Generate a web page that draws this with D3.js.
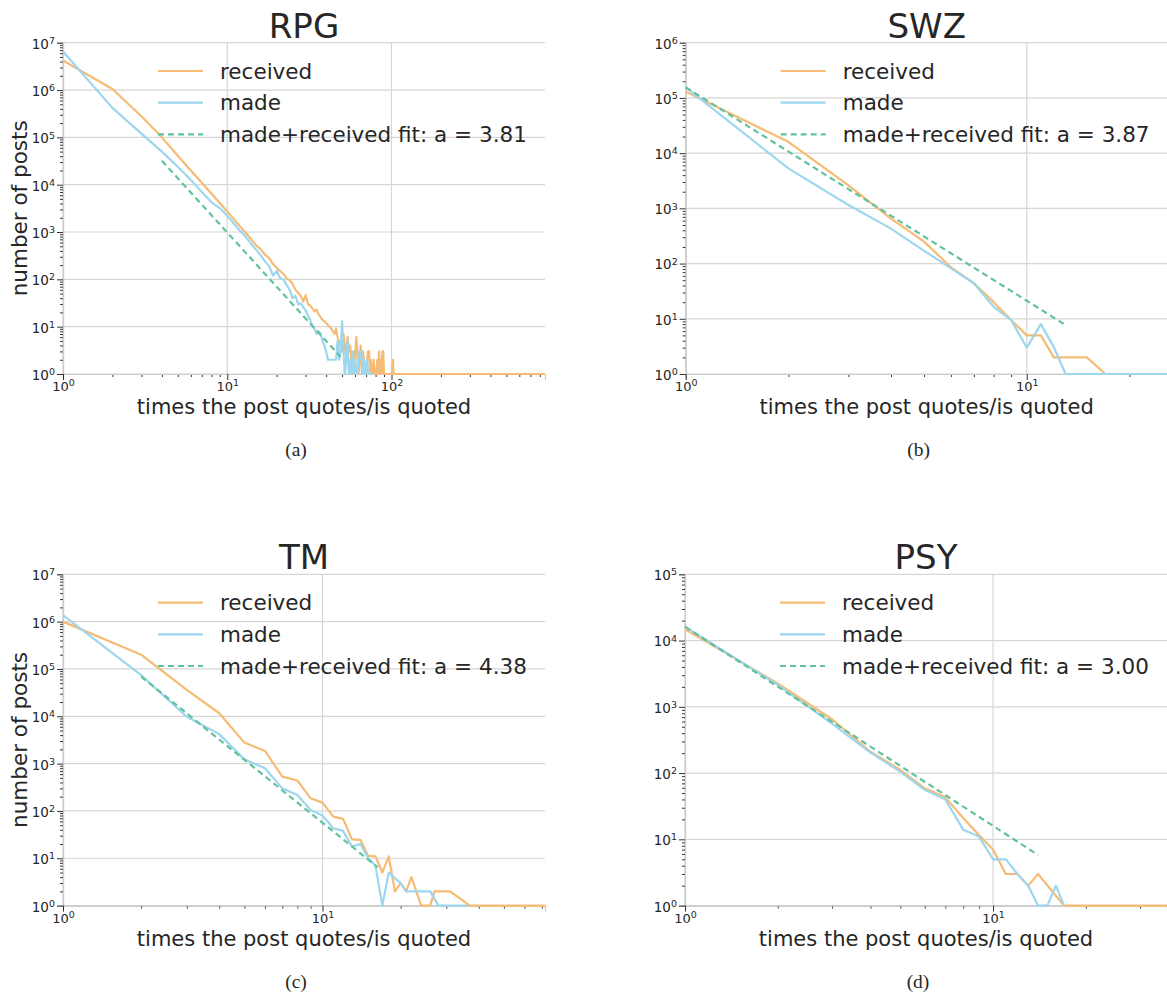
<!DOCTYPE html>
<html>
<head>
<meta charset="utf-8">
<script src="https://cdn.jsdelivr.net/npm/d3@7"></script>
<style>
  body { margin: 0; background: #fff; }
  svg text { font-family: "DejaVu Sans", sans-serif; fill: #262626; }
  .caption { font-family: "Liberation Serif", serif !important; }
  .grid line { stroke: #d6d6d6; stroke-width: 1.2; }
  .axis path.domain { stroke: #cccccc; stroke-width: 1.2; }
  .axis line { stroke: #333; }
</style>
</head>
<body>
<div id="chart"></div>
<script>
// RPG
const rpgReceivedY = [4.2e6, 1.05e6, 2.8e5, 1.0e5, 41000, 20000, 11000, 6500, 4100, 2700,
  1850, 1300, 950, 700, 520, 430, 330, 280, 210, 175,
  150, 130, 105, 95, 80, 60, 52, 45, 34, 46,
  30, 28, 24, 21, 23, 18, 16, 14, 13, 12,
  11, 10, 9, 8, 7, 9, 6, 4, 5, 3,
  7, 4, 2, 6, 3, 4, 2, 1, 3, 2,
  6, 3, 1, 2, 4, 1, 3, 2, 1, 1,
  2, 3, 3, 1, 2, 1, 1, 2, 1, 1,
  1, 2, 1, 3, 1, 2, 1, 3, 3, 1,
  1, 1, 1, 1, 1, 1, 1, 1, 1, 1,
  1, 2, 1, 1];
const rpgMadeY = [6.5e6, 4.2e5, 1.2e5, 5.0e4, 2.4e4, 12500, 7000, 4300, 3200, 2200,
  1500, 1050, 780, 560, 420, 320, 240, 190, 120, 150,
  105, 100, 75, 60, 40, 45, 30, 31, 26, 22,
  17, 14, 10, 9, 7, 8, 7, 5, 4, 3,
  2, 2, 2, 2, 2, 2, 5, 2, 3, 13,
  3, 1, 2, 5, 1, 2, 1, 3, 1, 2,
  1, 1, 3, 2, 3, 2, 1, 2, 1, 1,
  2, 1, 1, 1, 1, 1, 1];
const rpgFitX = [4, 49];
const rpgFitY = [32000, 2.3];

// SWZ
const swzReceivedX = [1, 2, 3, 4, 5, 6, 7, 8, 9, 10, 11, 12, 13, 14, 15, 16, 17, 25.9];
const swzReceivedY = [1.3e5, 1.6e4, 2600, 650, 250, 85, 44, 20, 9.5, 5, 5, 2, 2, 2, 2, 1.4, 1, 1];
const swzMadeX = [1, 2, 3, 4, 5, 6, 7, 8, 9, 10, 11, 12, 13, 25.9];
const swzMadeY = [1.55e5, 5300, 1150, 430, 170, 82, 44, 16.5, 9.5, 3, 8, 3.1, 1, 1];
const swzFitX = [1, 13];
const swzFitY = [1.56e5, 7.7];

// TM
const tmReceivedX = [1, 2, 3, 4, 5, 6, 7, 8, 9, 10, 11, 12, 13, 14, 15, 16, 17, 18, 19, 20, 21, 22, 23, 24, 26, 27, 31, 37, 72];
const tmReceivedY = [1.0e6, 2.0e5, 3.6e4, 1.16e4, 2780, 1850, 530, 440, 185, 150, 76, 68, 25, 24.5, 11.2, 11, 5, 11, 2, 3, 2, 4, 2, 1, 1, 2, 2, 1, 1];
const tmMadeX = [1, 2, 3, 4, 5, 6, 7, 8, 9, 10, 11, 12, 13, 14, 15, 16, 17, 18, 19, 20, 21, 26, 28, 36];
const tmMadeY = [1.38e6, 7.4e4, 9800, 4200, 1230, 800, 300, 218, 105, 80, 43, 38, 17.6, 20, 10, 7, 1, 5, 3.8, 3, 2, 2, 1, 1];
const tmFitX = [2, 16.3];
const tmFitY = [6.9e4, 6.5];

// PSY
const psyReceivedX = [1, 2, 3, 4, 5, 6, 7, 8, 9, 10, 11, 12, 13, 14, 17, 36.7];
const psyReceivedY = [1.48e4, 2260, 650, 210, 112, 59, 43, 21, 11.6, 7, 3, 3, 2, 3, 1, 1];
const psyMadeX = [1, 2, 3, 4, 5, 6, 7, 8, 9, 10, 11, 12, 13, 14, 15, 16, 17];
const psyMadeY = [1.62e4, 2140, 560, 204, 105, 56, 40, 14, 11, 5, 5, 3, 2, 1, 1, 2, 1];
const psyFitX = [1, 14];
const psyFitY = [1.62e4, 5.8];

const seriesNames = ["received", "made"];
const colors = {received: "#f6bb74", made: "#9dd6ef", fit: "#62c29e"};

const plotW = 482;
const plotH = 331.3;

function zip(xs, ys) { return xs.map((x, i) => [x, ys[i]]); }

const panels = [
  {title: "RPG", letter: "(a)", left: 63, top: 42.7, xMax: 860, yMax: 1e7, yLabel: true, a: "3.81",
    received: zip(d3.range(1, rpgReceivedY.length + 1), rpgReceivedY).concat([[860, 1]]),
    made: zip(d3.range(1, rpgMadeY.length + 1), rpgMadeY),
    fit: zip(rpgFitX, rpgFitY)},
  {title: "SWZ", letter: "(b)", left: 685.7, top: 42.7, xMax: 25.9, yMax: 1e6, yLabel: false, a: "3.87",
    received: zip(swzReceivedX, swzReceivedY), made: zip(swzMadeX, swzMadeY), fit: zip(swzFitX, swzFitY)},
  {title: "TM", letter: "(c)", left: 63, top: 574.3, xMax: 72, yMax: 1e7, yLabel: true, a: "4.38",
    received: zip(tmReceivedX, tmReceivedY), made: zip(tmMadeX, tmMadeY), fit: zip(tmFitX, tmFitY)},
  {title: "PSY", letter: "(d)", left: 685, top: 574.3, xMax: 36.7, yMax: 1e5, yLabel: false, a: "3.00",
    received: zip(psyReceivedX, psyReceivedY), made: zip(psyMadeX, psyMadeY), fit: zip(psyFitX, psyFitY)}
];

const svg = d3.select("#chart").append("svg")
  .attr("width", 1167)
  .attr("height", 999);

// 10 with a superscript exponent
function powLabel(sel) {
  sel.each(function(d) {
    const t = d3.select(this);
    const e = Math.round(Math.log10(d));
    t.text("10");
    t.append("tspan").attr("dy", "-0.5em").attr("font-size", "9.5px").text(e);
  });
}

function isDecade(v) { return Math.abs(Math.log10(v) - Math.round(Math.log10(v))) < 1e-9; }

function drawPanel(p) {
  const g = svg.append("g").attr("transform", `translate(${p.left}, ${p.top})`);

  const x = d3.scaleLog().domain([1, p.xMax]).range([0, plotW]);
  const y = d3.scaleLog().domain([1, p.yMax]).range([plotH, 0]);

  const xMajor = x.ticks().filter(isDecade);
  const yMajor = y.ticks().filter(isDecade);

  // grid
  const grid = g.append("g").attr("class", "grid");
  grid.selectAll(".hy").data(yMajor).enter().append("line")
    .attr("x1", 0).attr("x2", plotW)
    .attr("y1", d => y(d)).attr("y2", d => y(d));
  grid.selectAll(".vx").data(xMajor).enter().append("line")
    .attr("x1", d => x(d)).attr("x2", d => x(d))
    .attr("y1", 0).attr("y2", plotH);

  // minor ticks
  g.append("g").attr("class", "axis")
    .call(d3.axisLeft(y).tickValues(y.ticks().filter(v => !isDecade(v))).tickSize(3).tickFormat(""));
  g.append("g").attr("class", "axis").attr("transform", `translate(0, ${plotH})`)
    .call(d3.axisBottom(x).tickValues(x.ticks().filter(v => !isDecade(v))).tickSize(3).tickFormat(""));

  // major ticks
  g.append("g").attr("class", "axis")
    .call(d3.axisLeft(y).tickValues(yMajor).tickSize(6).tickPadding(2))
    .call(a => a.selectAll("text").attr("font-size", "13.5px").attr("dy", "0.4em").call(powLabel));
  g.append("g").attr("class", "axis").attr("transform", `translate(0, ${plotH})`)
    .call(d3.axisBottom(x).tickValues(xMajor).tickSize(6).tickPadding(2))
    .call(a => a.selectAll("text").attr("font-size", "13px").call(powLabel));
  g.selectAll(".axis text").style("font-family", "DejaVu Sans").style("fill", "#262626");

  // lines
  const line = d3.line().x(d => x(d[0])).y(d => y(d[1]));
  seriesNames.forEach(s => {
    g.append("path")
      .datum(p[s])
      .attr("d", line)
      .attr("fill", "none")
      .attr("stroke", colors[s])
      .attr("stroke-width", 2.2)
      .attr("stroke-linejoin", "round");
  });
  g.append("path")
    .datum(p.fit)
    .attr("d", line)
    .attr("fill", "none")
    .attr("stroke", colors.fit)
    .attr("stroke-width", 2.2)
    .attr("stroke-dasharray", "6,4");

  // legend
  const legendRows = [
    {label: "received", color: colors.received, dash: null},
    {label: "made", color: colors.made, dash: null},
    {label: `made+received fit: a = ${p.a}`, color: colors.fit, dash: "6,4"}
  ];
  const leg = g.append("g").attr("class", "legend");
  legendRows.forEach((r, i) => {
    const ly = 28.3 + i * 31.7;
    leg.append("line")
      .attr("x1", 95).attr("x2", 140)
      .attr("y1", ly).attr("y2", ly)
      .attr("stroke", r.color)
      .attr("stroke-width", 2.2)
      .attr("stroke-dasharray", r.dash);
    leg.append("text")
      .attr("x", 157).attr("y", ly)
      .attr("dy", "0.36em")
      .attr("font-size", "21.5px")
      .text(r.label);
  });

  // title and labels
  g.append("text")
    .attr("x", plotW / 2).attr("y", -5)
    .attr("text-anchor", "middle")
    .attr("font-size", "34px")
    .text(p.title);

  g.append("text")
    .attr("x", plotW / 2).attr("y", plotH + 40)
    .attr("text-anchor", "middle")
    .attr("font-size", "21px")
    .text("times the post quotes/is quoted");

  if (p.yLabel) {
    g.append("text")
      .attr("transform", `translate(-36, ${plotH / 2}) rotate(-90)`)
      .attr("text-anchor", "middle")
      .attr("font-size", "21.5px")
      .text("number of posts");
  }

  g.append("text")
    .attr("class", "caption")
    .attr("x", 233).attr("y", plotH + 82)
    .attr("text-anchor", "middle")
    .attr("font-size", "19.5px")
    .text(p.letter);
}

panels.forEach(drawPanel);
</script>
</body>
</html>
